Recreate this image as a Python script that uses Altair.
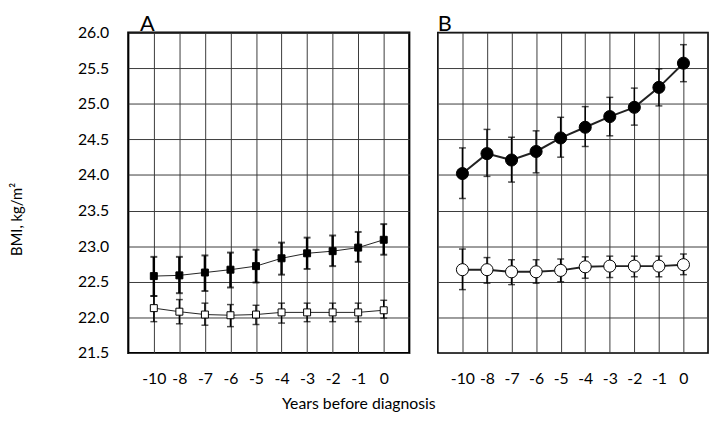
import altair as alt
import pandas as pd

years = ["-10", "-8", "-7", "-6", "-5", "-4", "-3", "-2", "-1", "0"]
y_ticks = [21.5, 22.0, 22.5, 23.0, 23.5, 24.0, 24.5, 25.0, 25.5, 26.0]

a_case_mean = [22.58, 22.59, 22.63, 22.67, 22.72, 22.83, 22.90, 22.93, 22.98, 23.09]
a_case_lo = [22.30, 22.34, 22.37, 22.42, 22.49, 22.60, 22.68, 22.72, 22.78, 22.88]
a_case_hi = [22.85, 22.85, 22.87, 22.91, 22.95, 23.05, 23.12, 23.15, 23.20, 23.31]
a_ctrl_mean = [22.13, 22.08, 22.04, 22.03, 22.04, 22.07, 22.07, 22.07, 22.07, 22.10]
a_ctrl_lo = [21.94, 21.91, 21.89, 21.87, 21.90, 21.92, 21.94, 21.94, 21.94, 21.99]
a_ctrl_hi = [22.30, 22.25, 22.20, 22.18, 22.17, 22.20, 22.20, 22.20, 22.20, 22.24]

b_case_mean = [24.02, 24.30, 24.21, 24.33, 24.52, 24.67, 24.82, 24.95, 25.23, 25.57]
b_case_lo = [23.67, 23.98, 23.90, 24.03, 24.25, 24.40, 24.55, 24.70, 24.97, 25.31]
b_case_hi = [24.38, 24.64, 24.53, 24.62, 24.81, 24.96, 25.09, 25.22, 25.49, 25.83]
b_ctrl_mean = [22.67, 22.67, 22.64, 22.64, 22.66, 22.71, 22.72, 22.72, 22.72, 22.74]
b_ctrl_lo = [22.39, 22.48, 22.46, 22.48, 22.50, 22.55, 22.56, 22.57, 22.57, 22.60]
b_ctrl_hi = [22.96, 22.84, 22.81, 22.81, 22.82, 22.85, 22.86, 22.86, 22.86, 22.89]

FONT = "Lato"
GRID = "#3a3a3a"
YSCALE = alt.Scale(domain=[21.5, 26.0], nice=False, zero=False)


def frame(mean, lo, hi):
    return pd.DataFrame({"year": years, "mean": mean, "lo": lo, "hi": hi})


def series(df, x, y_axis, shape, size, fill, line_w, err_w, cap_w, cap_len, pt_stroke):
    base = alt.Chart(df)
    y = alt.Y("mean:Q", scale=YSCALE, axis=y_axis)
    ylo = alt.Y("lo:Q", scale=YSCALE, axis=y_axis)
    yhi = alt.Y("hi:Q", scale=YSCALE, axis=y_axis)
    line = base.mark_line(color="#222", strokeWidth=line_w).encode(x=x, y=y)
    rule = base.mark_rule(color="black", strokeWidth=err_w).encode(x=x, y=ylo, y2="hi:Q")
    cap_lo = base.mark_tick(color="black", thickness=cap_w, size=cap_len).encode(x=x, y=ylo)
    cap_hi = base.mark_tick(color="black", thickness=cap_w, size=cap_len).encode(x=x, y=yhi)
    pts = base.mark_point(shape=shape, size=size, filled=True, fill=fill, stroke="black",
                          strokeWidth=pt_stroke, opacity=1).encode(x=x, y=y)
    return [line, rule, cap_lo, cap_hi, pts]


def x_enc():
    return alt.X("year:O", sort=years, scale=alt.Scale(type="point", padding=1),
                 axis=alt.Axis(title=None, labelAngle=0, ticks=False, domain=False,
                               grid=True, gridColor=GRID, gridWidth=1, gridOpacity=1,
                               labelPadding=18, labelFontSize=16, labelFont=FONT,
                               labelColor="black"))


ya = alt.Axis(values=y_ticks, format=".1f", title="BMI, kg/m²", ticks=False, domain=False,
              grid=True, gridColor=GRID, gridWidth=1, gridOpacity=1, labelOverlap=False,
              labelPadding=20, labelFontSize=16, labelFont=FONT, labelColor="black",
              titleFont=FONT, titleFontSize=15, titleFontWeight="normal", titleColor="black",
              titleX=-105, titleY=189)
yb = alt.Axis(values=y_ticks, title=None, labels=False, ticks=False, domain=False,
              grid=True, gridColor=GRID, gridWidth=1, gridOpacity=1)

label_data = alt.Data(values=[{"k": 1}])

A_layers = (
    series(frame(a_case_mean, a_case_lo, a_case_hi), x_enc(), ya, "square", 50, "black", 1, 2.5, 2, 7, 1)
    + series(frame(a_ctrl_mean, a_ctrl_lo, a_ctrl_hi), x_enc(), ya, "square", 50, "white", 1, 1.5, 1.5, 7, 1)
    + [alt.Chart(label_data).mark_text(align="left", baseline="alphabetic", fontSize=22,
                                       font=FONT, color="black")
       .encode(x=alt.value(12), y=alt.value(-2), text=alt.value("A"))]
)
B_layers = (
    series(frame(b_case_mean, b_case_lo, b_case_hi), x_enc(), yb, "circle", 150, "black", 2, 1.5, 1.5, 7, 1)
    + series(frame(b_ctrl_mean, b_ctrl_lo, b_ctrl_hi), x_enc(), yb, "circle", 150, "white", 2, 1.5, 1.5, 7, 1)
    + [alt.Chart(label_data).mark_text(align="left", baseline="alphabetic", fontSize=22,
                                       font=FONT, color="black")
       .encode(x=alt.value(0), y=alt.value(-2), text=alt.value("B"))]
)

A = alt.layer(*A_layers).properties(width=285, height=325,
                                    view=alt.ViewBackground(stroke="black", strokeWidth=2.2))
B = alt.layer(*B_layers).properties(width=274, height=325,
                                    view=alt.ViewBackground(stroke="black", strokeWidth=1.6))

chart = alt.hconcat(A, B, spacing=26).properties(
    padding=0,
    title=alt.TitleParams("Years before diagnosis", orient="bottom", anchor="middle",
                          fontSize=16, font=FONT, fontWeight="normal", color="black", offset=9),
).resolve_scale(y="shared")

chart.save("out.html", embed_options={"renderer": "svg", "actions": False})
